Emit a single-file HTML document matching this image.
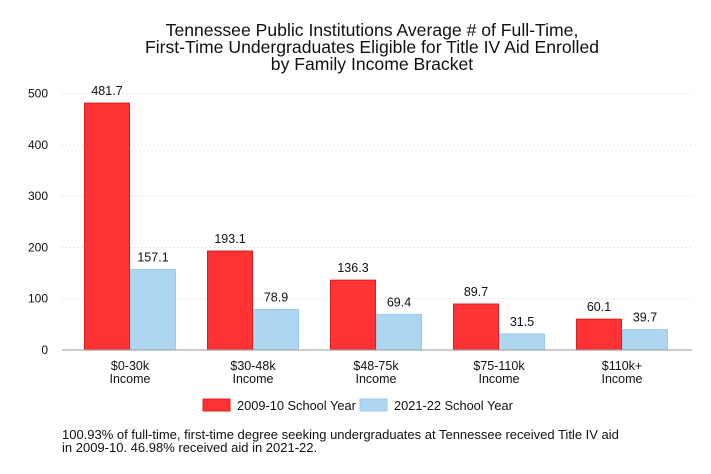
<!DOCTYPE html>
<html><head><meta charset="utf-8"><style>
body{margin:0;background:#fff;font-family:"Liberation Sans",Arial,sans-serif}
svg{display:block}
</style></head><body>
<svg id="c" width="711" height="474">
<g font-size="17.6" text-anchor="middle" fill="#111">
<text x="372" y="36">Tennessee Public Institutions Average # of Full-Time,</text>
<text x="372" y="53">First-Time Undergraduates Eligible for Title IV Aid Enrolled</text>
<text x="372" y="70">by Family Income Bracket</text>
</g>
<g id="grid"></g><g id="bars"></g>
<g font-size="12.8" fill="#111">
<rect x="203" y="399" width="27" height="12" fill="#ff3333" stroke="#d92020"/>
<text x="237" y="410">2009-10 School Year</text>
<rect x="360" y="399" width="27" height="12" fill="#aed6f1" stroke="#9ccaea"/>
<text x="394" y="410">2021-22 School Year</text>
</g>
<g font-size="13" fill="#111">
<text x="62" y="439">100.93% of full-time, first-time degree seeking undergraduates at Tennessee received Title IV aid</text>
<text x="62" y="452">in 2009-10. 46.98% received aid in 2021-22.</text>
</g>
</svg>
<script>
const categories=["$0-30k","$30-48k","$48-75k","$75-110k","$110k+"];
const series2009=[481.7,193.1,136.3,89.7,60.1];
const series2021=[157.1,78.9,69.4,31.5,39.7];
const yTicks=[0,100,200,300,400,500];
const NS="http://www.w3.org/2000/svg";
const y0=350,pxPer=0.5126,x0=62,x1=692,gw=123,c0=130,bw=46;
const y=v=>y0-v*pxPer;
const gx=i=>c0+i*gw;
function mk(t,a,p,txt){const e=document.createElementNS(NS,t);for(const k in a)e.setAttribute(k,a[k]);if(txt!=null)e.textContent=txt;p.appendChild(e);return e;}
const g=document.getElementById('grid'),b=document.getElementById('bars');
yTicks.forEach(v=>{
 if(v>0){const l=mk('line',{x1:x0,x2:x1,y1:y(v),y2:y(v),stroke:'#d0d0d0','stroke-dasharray':'1 3'},g);
 
 }
 const t=mk('text',{x:48,y:y(v)+4,'text-anchor':'end','font-size':12,fill:'#111'},g,String(v));
 
 
});
categories.forEach((c,i)=>{
 const cx=gx(i);
 [[series2009[i],cx-bw,'#ff3333','#d92020','2009'],[series2021[i],cx,'#aed6f1','#9ccaea','2021']].forEach(([v,x,f,s,n])=>{
  const r=mk('rect',{x:x+0.5,y:y(v),width:bw-1,height:y0-y(v),fill:f,stroke:s},b);
  
  
  const t=mk('text',{x:x+bw/2,y:y(v)-8,'text-anchor':'middle','font-size':12.5,fill:'#111'},b,v.toFixed(1));
  
  
 });
 const t1=mk('text',{x:cx,y:370,'text-anchor':'middle','font-size':12.5,fill:'#111'},b,c);
 
 
 const t2=mk('text',{x:cx,y:383,'text-anchor':'middle','font-size':12.5,fill:'#111'},b,'Income');
 
 
});
const base=mk('line',{x1:x0,x2:x1,y1:y0,y2:y0,stroke:'#999'},b);


</script>
</body></html>
